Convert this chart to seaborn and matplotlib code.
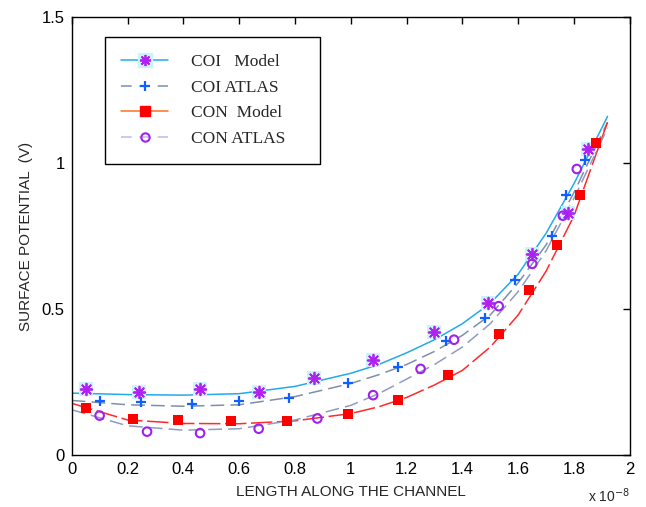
import matplotlib
matplotlib.use("Agg")
import matplotlib.pyplot as plt
import seaborn as sns
from matplotlib.lines import Line2D
from matplotlib.legend_handler import HandlerTuple

# curve samples (x in units of 1e-8 m)
curve_x = [0.0, 0.2, 0.4, 0.6, 0.8, 1.0, 1.1, 1.2, 1.3, 1.4, 1.5, 1.6, 1.7, 1.8, 1.92]
coi_model_line = [0.212, 0.207, 0.205, 0.21, 0.235, 0.28, 0.31, 0.35, 0.395, 0.45, 0.52, 0.62, 0.76, 0.93, 1.16]
coi_atlas_line = [0.187, 0.172, 0.167, 0.172, 0.2, 0.245, 0.275, 0.31, 0.355, 0.41, 0.48, 0.59, 0.72, 0.9, 1.14]
con_model_line = [0.177, 0.12, 0.108, 0.107, 0.117, 0.142, 0.165, 0.197, 0.24, 0.29, 0.37, 0.48, 0.63, 0.82, 1.14]
con_atlas_line = [0.155, 0.1, 0.085, 0.09, 0.12, 0.17, 0.21, 0.26, 0.31, 0.37, 0.45, 0.56, 0.7, 0.88, 1.12]

# marker samples
coi_model_x = [0.05, 0.24, 0.46, 0.67, 0.87, 1.08, 1.30, 1.49, 1.65, 1.78, 1.85]
coi_model_y = [0.225, 0.215, 0.225, 0.215, 0.265, 0.325, 0.42, 0.52, 0.69, 0.83, 1.05]
coi_atlas_x = [0.10, 0.25, 0.43, 0.60, 0.78, 0.99, 1.17, 1.34, 1.48, 1.59, 1.72, 1.77, 1.84]
coi_atlas_y = [0.185, 0.18, 0.175, 0.185, 0.195, 0.245, 0.30, 0.39, 0.47, 0.60, 0.75, 0.89, 1.01]
con_model_x = [0.05, 0.22, 0.38, 0.57, 0.77, 0.99, 1.17, 1.35, 1.53, 1.64, 1.74, 1.82, 1.88]
con_model_y = [0.16, 0.125, 0.12, 0.115, 0.115, 0.14, 0.19, 0.275, 0.415, 0.565, 0.72, 0.89, 1.07]
con_atlas_x = [0.10, 0.27, 0.46, 0.67, 0.88, 1.08, 1.25, 1.37, 1.53, 1.65, 1.76, 1.81]
con_atlas_y = [0.135, 0.08, 0.075, 0.09, 0.125, 0.205, 0.295, 0.395, 0.51, 0.655, 0.82, 0.98]

labels = ["COI   Model", "COI ATLAS", "CON  Model", "CON ATLAS    "]
x_ticks = [0, 0.2, 0.4, 0.6, 0.8, 1, 1.2, 1.4, 1.6, 1.8, 2]
x_ticklabels = ["0", "0.2", "0.4", "0.6", "0.8", "1", "1.2", "1.4", "1.6", "1.8", "2"]
y_ticks = [0, 0.5, 1, 1.5]
y_ticklabels = ["0", "0.5", "1", "1.5"]

sns.set_style("white")
plt.rcParams['font.family'] = ['Liberation Sans', 'DejaVu Sans']

fig = plt.figure(figsize=(6.46, 5.07), dpi=100)
ax = fig.add_axes([0.111, 0.1026, 0.864, 0.8634])

ast = (8, 2, 0)
sns.lineplot(x=curve_x, y=coi_model_line, ax=ax, color="#22aaee", lw=1.1, sort=False)
sns.lineplot(x=curve_x, y=coi_atlas_line, ax=ax, color="#7f8fa8", lw=1.1, sort=False,
             linestyle=(0, (9, 4)))
sns.lineplot(x=curve_x, y=con_model_line, ax=ax, color="#ff2a2a", lw=1.1, sort=False,
             linestyle=(0, (14, 3)))
sns.lineplot(x=curve_x, y=con_atlas_line, ax=ax, color="#8f9cc0", lw=1.1, sort=False,
             linestyle=(0, (9, 4)))

ax.scatter(coi_model_x, coi_model_y, marker='s', s=110, color="#c8f4fa", zorder=3, linewidths=0)
sns.scatterplot(x=coi_model_x, y=coi_model_y, ax=ax, marker=ast, s=70, color="#b020f0",
                edgecolor="#b020f0", linewidth=1.3, zorder=4)
sns.scatterplot(x=coi_atlas_x, y=coi_atlas_y, ax=ax, marker='+', s=55, color="#1060ff",
                linewidth=1.6, zorder=4)
sns.scatterplot(x=con_model_x, y=con_model_y, ax=ax, marker='s', s=50, color="#ff0000",
                edgecolor="#ff0000", linewidth=0, zorder=4)
sns.scatterplot(x=con_atlas_x, y=con_atlas_y, ax=ax, marker='o', s=38, facecolor="none",
                edgecolor="#a020f0", linewidth=1.5, zorder=4)

ax.set_xlim(0, 2)
ax.set_ylim(0, 1.5)
ax.set_xticks(x_ticks)
ax.set_xticklabels(x_ticklabels)
ax.set_yticks(y_ticks)
ax.set_yticklabels(y_ticklabels)
ax.tick_params(direction='in', length=5, width=1, labelsize=12, top=True, right=True,
               color='black', labelcolor='black', pad=5)
for s in ax.spines.values():
    s.set_visible(True)
    s.set_color('black')
    s.set_linewidth(1.0)
ax.set_xlabel("LENGTH ALONG THE CHANNEL", fontsize=11, labelpad=6)
ax.set_ylabel("SURFACE POTENTIAL  (V)", fontsize=11, labelpad=6)
ax.text(1.0, -0.072, r"x 10$^{-8}$", transform=ax.transAxes, ha='right', va='top', fontsize=10)

h1 = (Line2D([], [], color="#22aaee", lw=1.1),
      Line2D([], [], marker='s', ms=10, color="#c8f4fa", lw=0),
      Line2D([], [], marker=ast, ms=8, color="#b020f0", mew=1.3, lw=0))
h2 = (Line2D([], [], color="#7f8fa8", lw=1.1, linestyle=(0, (7, 5))),
      Line2D([], [], marker='+', ms=7, color="#1060ff", mew=1.6, lw=0))
h3 = (Line2D([], [], color="#ff7020", lw=1.1),
      Line2D([], [], marker='s', ms=7, color="#ff0000", lw=0))
h4 = (Line2D([], [], color="#c0b8f0", lw=1.1, linestyle=(0, (7, 5))),
      Line2D([], [], marker='o', ms=6, mfc='none', mec="#a020f0", mew=1.5, lw=0))
leg = ax.legend([h1, h2, h3, h4], labels,
                handler_map={tuple: HandlerTuple(ndivide=1)},
                loc='upper left', bbox_to_anchor=(0.059, 0.954), borderaxespad=0,
                frameon=True, fancybox=False,
                edgecolor='black', framealpha=1, handlelength=2.7, borderpad=0.95,
                labelspacing=0.55, handletextpad=1.35,
                prop={'family': 'Liberation Serif', 'size': 12.5})
leg.get_frame().set_linewidth(1.0)

fig.savefig("out.png", dpi=100)
